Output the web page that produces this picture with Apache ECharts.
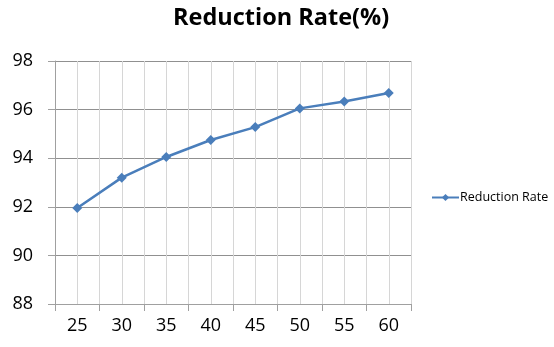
<!DOCTYPE html>
<html><head><meta charset="utf-8">
<script src="https://cdn.jsdelivr.net/npm/echarts@6/dist/echarts.min.js"></script>
<style>html,body{margin:0;padding:0;background:#fff}#c{width:554px;height:347px}</style>
</head><body><div id="c"></div>
<script>
const categories = ['25','30','35','40','45','50','55','60'];
const reductionRate = [91.95, 93.2, 94.05, 94.75, 95.28, 96.05, 96.33, 96.68];
const seriesName = 'Reduction Rate';
const titleText = 'Reduction Rate(%)';

const FONT = '"Open Sans", "Noto Sans", sans-serif';
const chart = echarts.init(document.getElementById('c'), null, {renderer:'canvas'});
chart.setOption({
  animation:false,
  title:{text:titleText,top:6,left:173,padding:0,
    textStyle:{fontFamily:FONT,fontSize:23.5,fontWeight:'bold',color:'#000'}},
  legend:{data:[seriesName],left:431,top:191,itemWidth:27,itemHeight:9,itemGap:0,padding:0,
    textStyle:{fontFamily:FONT,fontSize:12.5,color:'#000',padding:[0,0,0,-4]}},
  grid:{left:55,right:143,top:61,bottom:43},
  xAxis:[{type:'category',data:categories,boundaryGap:true,
    axisLine:{lineStyle:{color:'#a0a0a0',width:1}},
    axisTick:{show:true,length:7,lineStyle:{color:'#a0a0a0'}},
    axisLabel:{fontFamily:FONT,fontSize:18,color:'#000',margin:13},
    splitLine:{show:true,lineStyle:{color:'#c4c4c4',width:1}}},
   {type:'value',min:0,max:16,interval:1,position:'bottom',show:true,
    axisLine:{show:false},axisTick:{show:false},axisLabel:{show:false},
    splitLine:{show:true,lineStyle:{color:'#d6d6d6',width:1}},z:0}],
  yAxis:{type:'value',min:88,max:98,interval:2,
    axisLine:{show:true,lineStyle:{color:'#a0a0a0'}},
    axisTick:{show:true,length:7,lineStyle:{color:'#a0a0a0'}},
    axisLabel:{fontFamily:FONT,fontSize:18,color:'#000',margin:22},
    splitLine:{show:true,lineStyle:{color:'#909090',width:1}}},
  series:[{name:seriesName,type:'line',xAxisIndex:0,data:reductionRate,
    symbol:'diamond',symbolSize:10,showAllSymbol:true,
    lineStyle:{color:'#4a7ebb',width:2.5},
    itemStyle:{color:'#4a7ebb'}}]
});
</script></body></html>
